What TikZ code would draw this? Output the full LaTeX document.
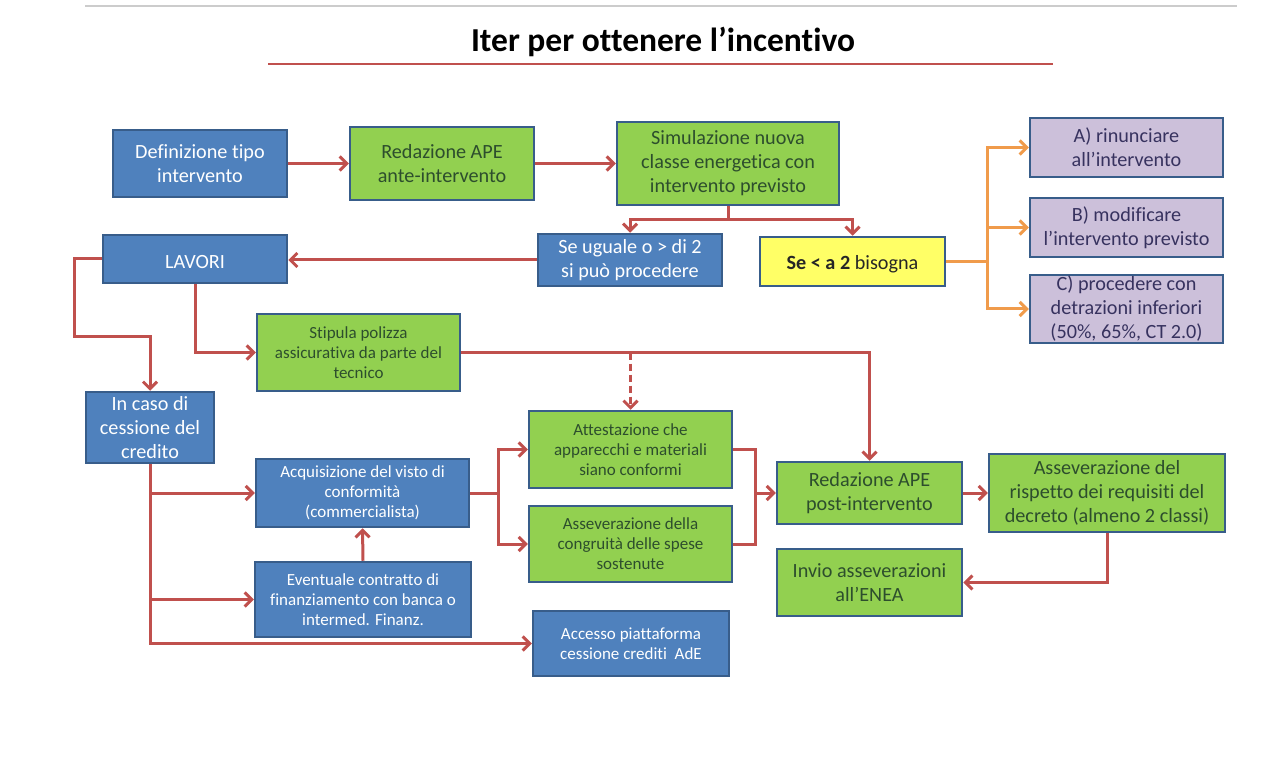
\documentclass[tikz,border=0pt]{standalone}
\usepackage{fontspec}
\setmainfont{Carlito}[Ligatures=NoCommon]
\usetikzlibrary{arrows.meta}
\definecolor{bfill}{RGB}{79,129,189}
\definecolor{bdraw}{RGB}{56,93,138}
\definecolor{gfill}{RGB}{146,208,80}
\definecolor{gtext}{RGB}{45,78,45}
\definecolor{yfill}{RGB}{255,255,102}
\definecolor{pfill}{RGB}{204,192,218}
\definecolor{ptext}{RGB}{55,50,95}
\definecolor{rline}{RGB}{192,80,77}
\definecolor{oline}{RGB}{240,155,75}
\begin{document}
\begin{tikzpicture}[x=1pt,y=-1pt,
  box/.style={draw=bdraw,line width=2.5pt,align=center,inner sep=1pt},
  bb/.style={box,fill=bfill,text=white},
  gb/.style={box,fill=gfill,text=gtext},
  yb/.style={box,fill=yfill,text=black!85},
  pb/.style={box,fill=pfill,text=ptext},
  big/.style={font=\fontsize{20.2}{24}\selectfont,execute at begin node={\rule{0pt}{20pt}}},
  small/.style={font=\fontsize{17}{20}\selectfont},
  conn/.style={draw=rline,line width=3pt},
  arr/.style={conn,-{Straight Barb[length=7pt,width=14pt]}},
  oarr/.style={draw=oline,line width=3pt,-{Straight Barb[length=7pt,width=14pt]}},
  sz/.style 2 args={minimum width=#1pt,minimum height=#2pt}
]
\useasboundingbox (0,0) rectangle (1280,767);
\fill[white] (0,0) rectangle (1280,767);
% top rule and title
\coordinate (g1) at (85,6);
\coordinate (g2) at (1237,6);
\draw[black!20,line width=2pt] (g1) -- (g2);
\node[font=\fontsize{33.5}{40}\selectfont\bfseries] (title) at (663,42) {Iter per ottenere l’incentivo};
\coordinate (u1) at (268,64);
\coordinate (u2) at (1053,64);
\draw[rline,line width=2.5pt] (u1) -- (u2);

% row 1
\node[bb,big,sz={174}{67}] (def) at (200,163.5) {Definizione tipo\\intervento};
\node[gb,big,sz={184}{73}] (ante) at (442,163.5) {Redazione APE\\ante-intervento};
\node[gb,big,sz={222}{83}] (sim) at (728,163.5) {Simulazione nuova\\classe energetica con\\intervento previsto};
% row 2
\node[bb,big,sz={184}{52}] (seu) at (630,260) {Se uguale o > di 2\\si può procedere};
\node[yb,big,sz={185}{49}] (sel) at (852.5,261.5) {\textbf{Se < a 2} bisogna};
\node[pb,big,sz={193}{59}] (optA) at (1126.5,147.5) {A) rinunciare\\all’intervento};
\node[pb,big,sz={193}{59}] (optB) at (1126.5,227.5) {B) modificare\\l’intervento previsto};
\node[pb,big,sz={193}{68}] (optC) at (1126.5,309) {C) procedere con\\detrazioni inferiori\\(50\%, 65\%, CT 2.0)};
\node[bb,big,sz={184}{48}] (lav) at (195,259) {LAVORI};
\node[gb,small,sz={203}{77}] (stip) at (358.5,352.5) {Stipula polizza\\assicurativa da parte del\\tecnico};
\node[bb,big,sz={128}{71},inner sep=0pt] (incaso) at (150,427.5) {In caso di\\cessione del\\credito};
\node[bb,small,sz={213}{68}] (acq) at (362.5,493) {Acquisizione del visto di\\conformità\\(commercialista)};
\node[bb,small,sz={216}{75}] (ev) at (363,599.5) {Eventuale contratto di\\finanziamento con banca o\\intermed. Finanz.};
\node[gb,small,sz={203}{77}] (att) at (630.5,449.5) {Attestazione che\\apparecchi e materiali\\siano conformi};
\node[gb,small,sz={203}{76}] (ass) at (630.5,544) {Asseverazione della\\congruità delle spese\\sostenute};
\node[bb,small,sz={196}{65}] (acc) at (631,643.5) {Accesso piattaforma\\cessione crediti~ AdE};
\node[gb,big,sz={185}{62}] (post) at (869.5,493) {Redazione APE\\post-intervento};
\node[gb,big,sz={236}{78}] (risp) at (1107,493) {Asseverazione del\\rispetto dei requisiti del\\decreto (almeno 2 classi)};
\node[gb,big,sz={185}{67}] (inv) at (869.5,582.5) {Invio asseverazioni\\all’ENEA};

% connectors
\draw[arr] (def) -- (ante);
\draw[arr] (ante) -- (sim);
\coordinate (br1) at (728,220);
\draw[conn] (sim.south) -- (br1);
\draw[arr] (br1) -| (seu.north);
\draw[arr] (br1) -| (sel.north);
\coordinate (ob) at (987,261.5);
\draw[draw=oline,line width=3pt] (sel.east) -- (ob);
\draw[oarr] (ob) |- (optA.west);
\draw[oarr] (ob) |- (optB.west);
\draw[oarr] (ob) |- (optC.west);
\draw[arr] (seu.west) -- (lav.east |- seu.west);
\coordinate (l1) at (74,337);
\draw[arr] (lav.west) -| (l1) -| (incaso.north);
\draw[arr] (lav.south) |- (stip.west);
\draw[arr] (stip.east) -| (post.north);
\coordinate (d1) at (630.5,352.5);
\draw[arr,dashed,dash pattern=on 7pt off 4pt] (d1) -- (att.north);
\draw[arr] (incaso.south) |- (acq.west);
\draw[arr] (incaso.south) |- (ev.west);
\draw[arr] (incaso.south) |- (acc.west);
\draw[arr] (ev.north) -- (acq.south);
\coordinate (j1) at (498,493);
\draw[conn] (acq.east) -- (j1);
\draw[arr] (j1) |- (att.west);
\draw[arr] (j1) |- (ass.west);
\coordinate (j2) at (755,493);
\draw[conn] (att.east) -| (j2);
\draw[conn] (ass.east) -| (j2);
\draw[arr] (j2) -- (post.west);
\draw[arr] (post) -- (risp);
\draw[arr] (risp.south) |- (inv.east);
\end{tikzpicture}
\end{document}
